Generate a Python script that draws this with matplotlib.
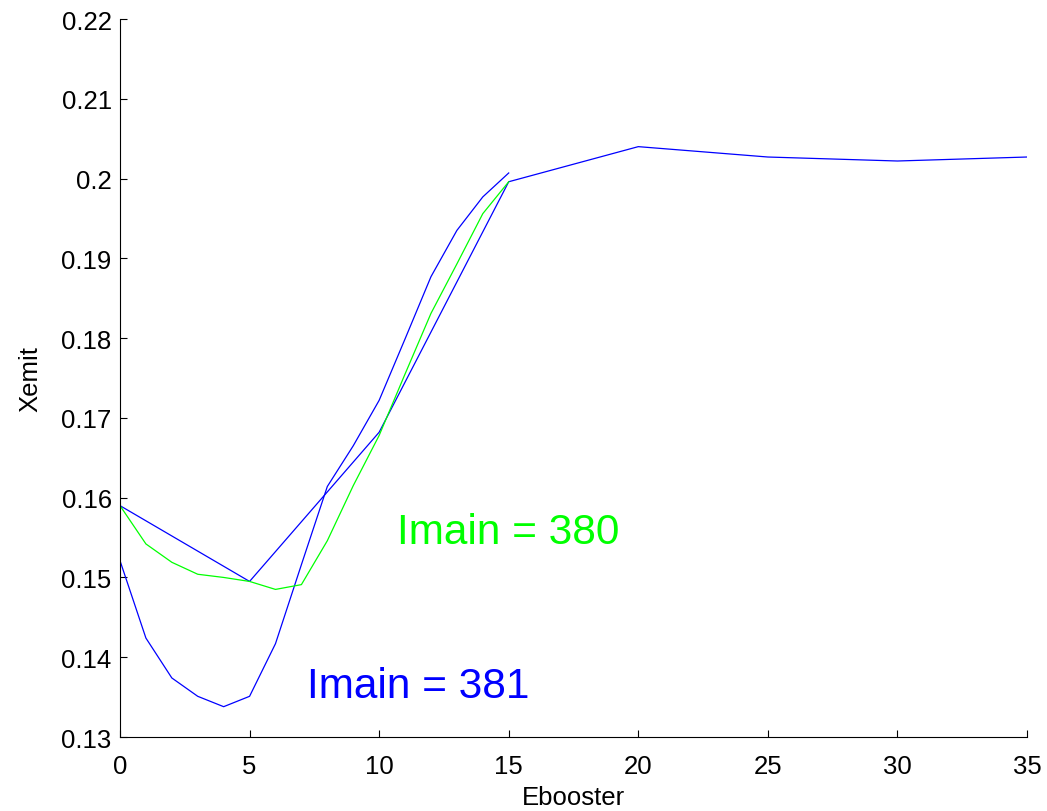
import matplotlib
matplotlib.use("Agg")
import matplotlib.pyplot as plt

# coarse scan (blue)
x_coarse = [0, 5, 10, 15, 20, 25, 30, 35]
y_coarse = [0.1590, 0.1495, 0.1682, 0.1996, 0.2040, 0.2027, 0.2022, 0.2027]

# Imain = 381 (blue)
x_381 = list(range(0, 16))
y_381 = [0.1521, 0.1424, 0.1374, 0.1351, 0.1338, 0.1351, 0.1417, 0.1516,
         0.1614, 0.1665, 0.1722, 0.1799, 0.1877, 0.1935, 0.1977, 0.2007]

# Imain = 380 (green)
x_380 = list(range(0, 16))
y_380 = [0.1590, 0.1542, 0.1519, 0.1504, 0.1500, 0.1495, 0.1485, 0.1491,
         0.1546, 0.1615, 0.1678, 0.1755, 0.1831, 0.1893, 0.1956, 0.1996]

xticks = [0, 5, 10, 15, 20, 25, 30, 35]
yticks = [0.13, 0.14, 0.15, 0.16, 0.17, 0.18, 0.19, 0.2, 0.21, 0.22]
ytick_labels = ["0.13", "0.14", "0.15", "0.16", "0.17", "0.18", "0.19", "0.2", "0.21", "0.22"]

plt.rcParams['font.family'] = ['Liberation Sans', 'DejaVu Sans']

fig = plt.figure(figsize=(10.47, 8.12), dpi=100)
ax = fig.add_axes([120/1047, 74/812, 907/1047, 718/812])

lw = 0.9
ax.plot(x_coarse, y_coarse, color=(0, 0, 1), lw=lw)
ax.plot(x_381, y_381, color=(0, 0, 1), lw=lw)
ax.plot(x_380, y_380, color=(0, 1, 0), lw=lw)

ax.text(10.7, 0.15434, "Imain = 380", color=(0, 1, 0), fontsize=30.5, va='baseline', ha='left')
ax.text(7.2, 0.13497, "Imain = 381", color=(0, 0, 1), fontsize=30.5, va='baseline', ha='left')

ax.set_xlim(0, 35)
ax.set_ylim(0.13, 0.22)
ax.set_xticks(xticks)
ax.set_yticks(yticks)
ax.set_yticklabels(ytick_labels)
ax.tick_params(direction='in', length=5, labelsize=18.5, width=0.8)
ax.tick_params(axis='x', pad=12)
ax.tick_params(axis='y', pad=6)
ax.spines['top'].set_visible(False)
ax.spines['right'].set_visible(False)
ax.set_xlabel("Ebooster", fontsize=18.5, labelpad=5)
ax.set_ylabel("Xemit", fontsize=18.5, labelpad=14)

fig.savefig("out.png", dpi=100)
